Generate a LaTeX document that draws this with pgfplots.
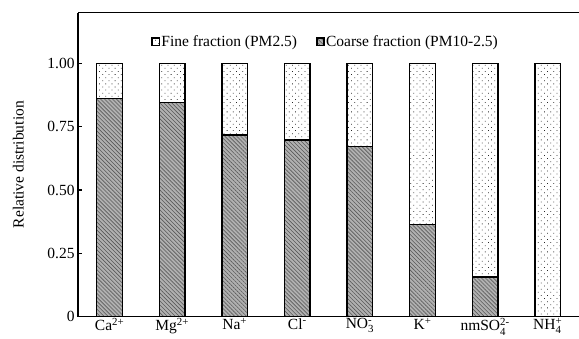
\documentclass[border=0pt]{standalone}
\usepackage{fontspec}
\setmainfont{Liberation Serif}
\usepackage{amsmath}
\usepackage{pgfplots}
\pgfplotsset{compat=1.18}
\usetikzlibrary{patterns.meta}
\newcommand\subsup[2]{\ensuremath{_{\text{#1}}^{\text{#2}}}}
\begin{document}
\fontsize{15.5}{17}\selectfont
\begin{tikzpicture}
\begin{axis}[
  scale only axis, width=500.7pt, height=304pt,
  at={(0,0)}, anchor=south west,
  ybar stacked, bar width=25.6pt,
  xmin=-0.5, xmax=7.5, ymin=0, ymax=1.2,
  xtick={0,...,7},
  xticklabels={Ca\textsuperscript{2+}, Mg\textsuperscript{2+}, Na\textsuperscript{+}, Cl\textsuperscript{-}, NO\subsup{3}{-}, K\textsuperscript{+}, nmSO\subsup{4}{2-}, NH\subsup{4}{+}},
  xticklabel style={inner sep=1.5pt},
  ytick={0,0.25,0.5,0.75,1},
  yticklabels={0,0.25,0.50,0.75,1.00},
  yticklabel style={inner sep=1.5pt, xshift=-2pt},
  axis x line=box, axis y line=left,
  axis line style={-, line width=1.6pt},
  x tick style={draw=none},
  y tick style={line width=1.2pt, black},
  tick align=inside, major tick length=4pt,
  ylabel={Relative distribution},
  ylabel style={at={(axis description cs:-0.12,0.5)}, anchor=center},
  legend style={at={(0.493,0.904)}, anchor=center, draw=none, fill=none, legend columns=2,
    /tikz/every even column/.append style={column sep=18pt},
    legend cell align=left, nodes={inner sep=1pt}},
  legend image code/.code={\draw[#1, line width=1.8pt] (0pt,-3.6pt) rectangle (7.2pt,3.6pt);},
  reverse legend,
]
\addplot[draw=black, line width=1.4pt, preaction={fill=gray!62},
  pattern={Lines[angle=-45,distance=2.8pt,line width=0.6pt]}, pattern color=black!65]
  coordinates {(0,0.861)(1,0.845)(2,0.717)(3,0.697)(4,0.672)(5,0.363)(6,0.157)(7,0)};
\addplot[draw=black, line width=1.4pt, preaction={fill=white},
  pattern={Dots[distance=4.4pt,radius=0.55pt,angle=45]}, pattern color=black!85]
  coordinates {(0,0.139)(1,0.155)(2,0.283)(3,0.303)(4,0.328)(5,0.637)(6,0.843)(7,1)};
\legend{Coarse fraction (PM10-2.5), Fine fraction (PM2.5)}
\end{axis}
\pgfresetboundingbox
\useasboundingbox (-78.3pt,-22.3pt) rectangle (500.7pt,316.7pt);
\end{tikzpicture}
\end{document}
